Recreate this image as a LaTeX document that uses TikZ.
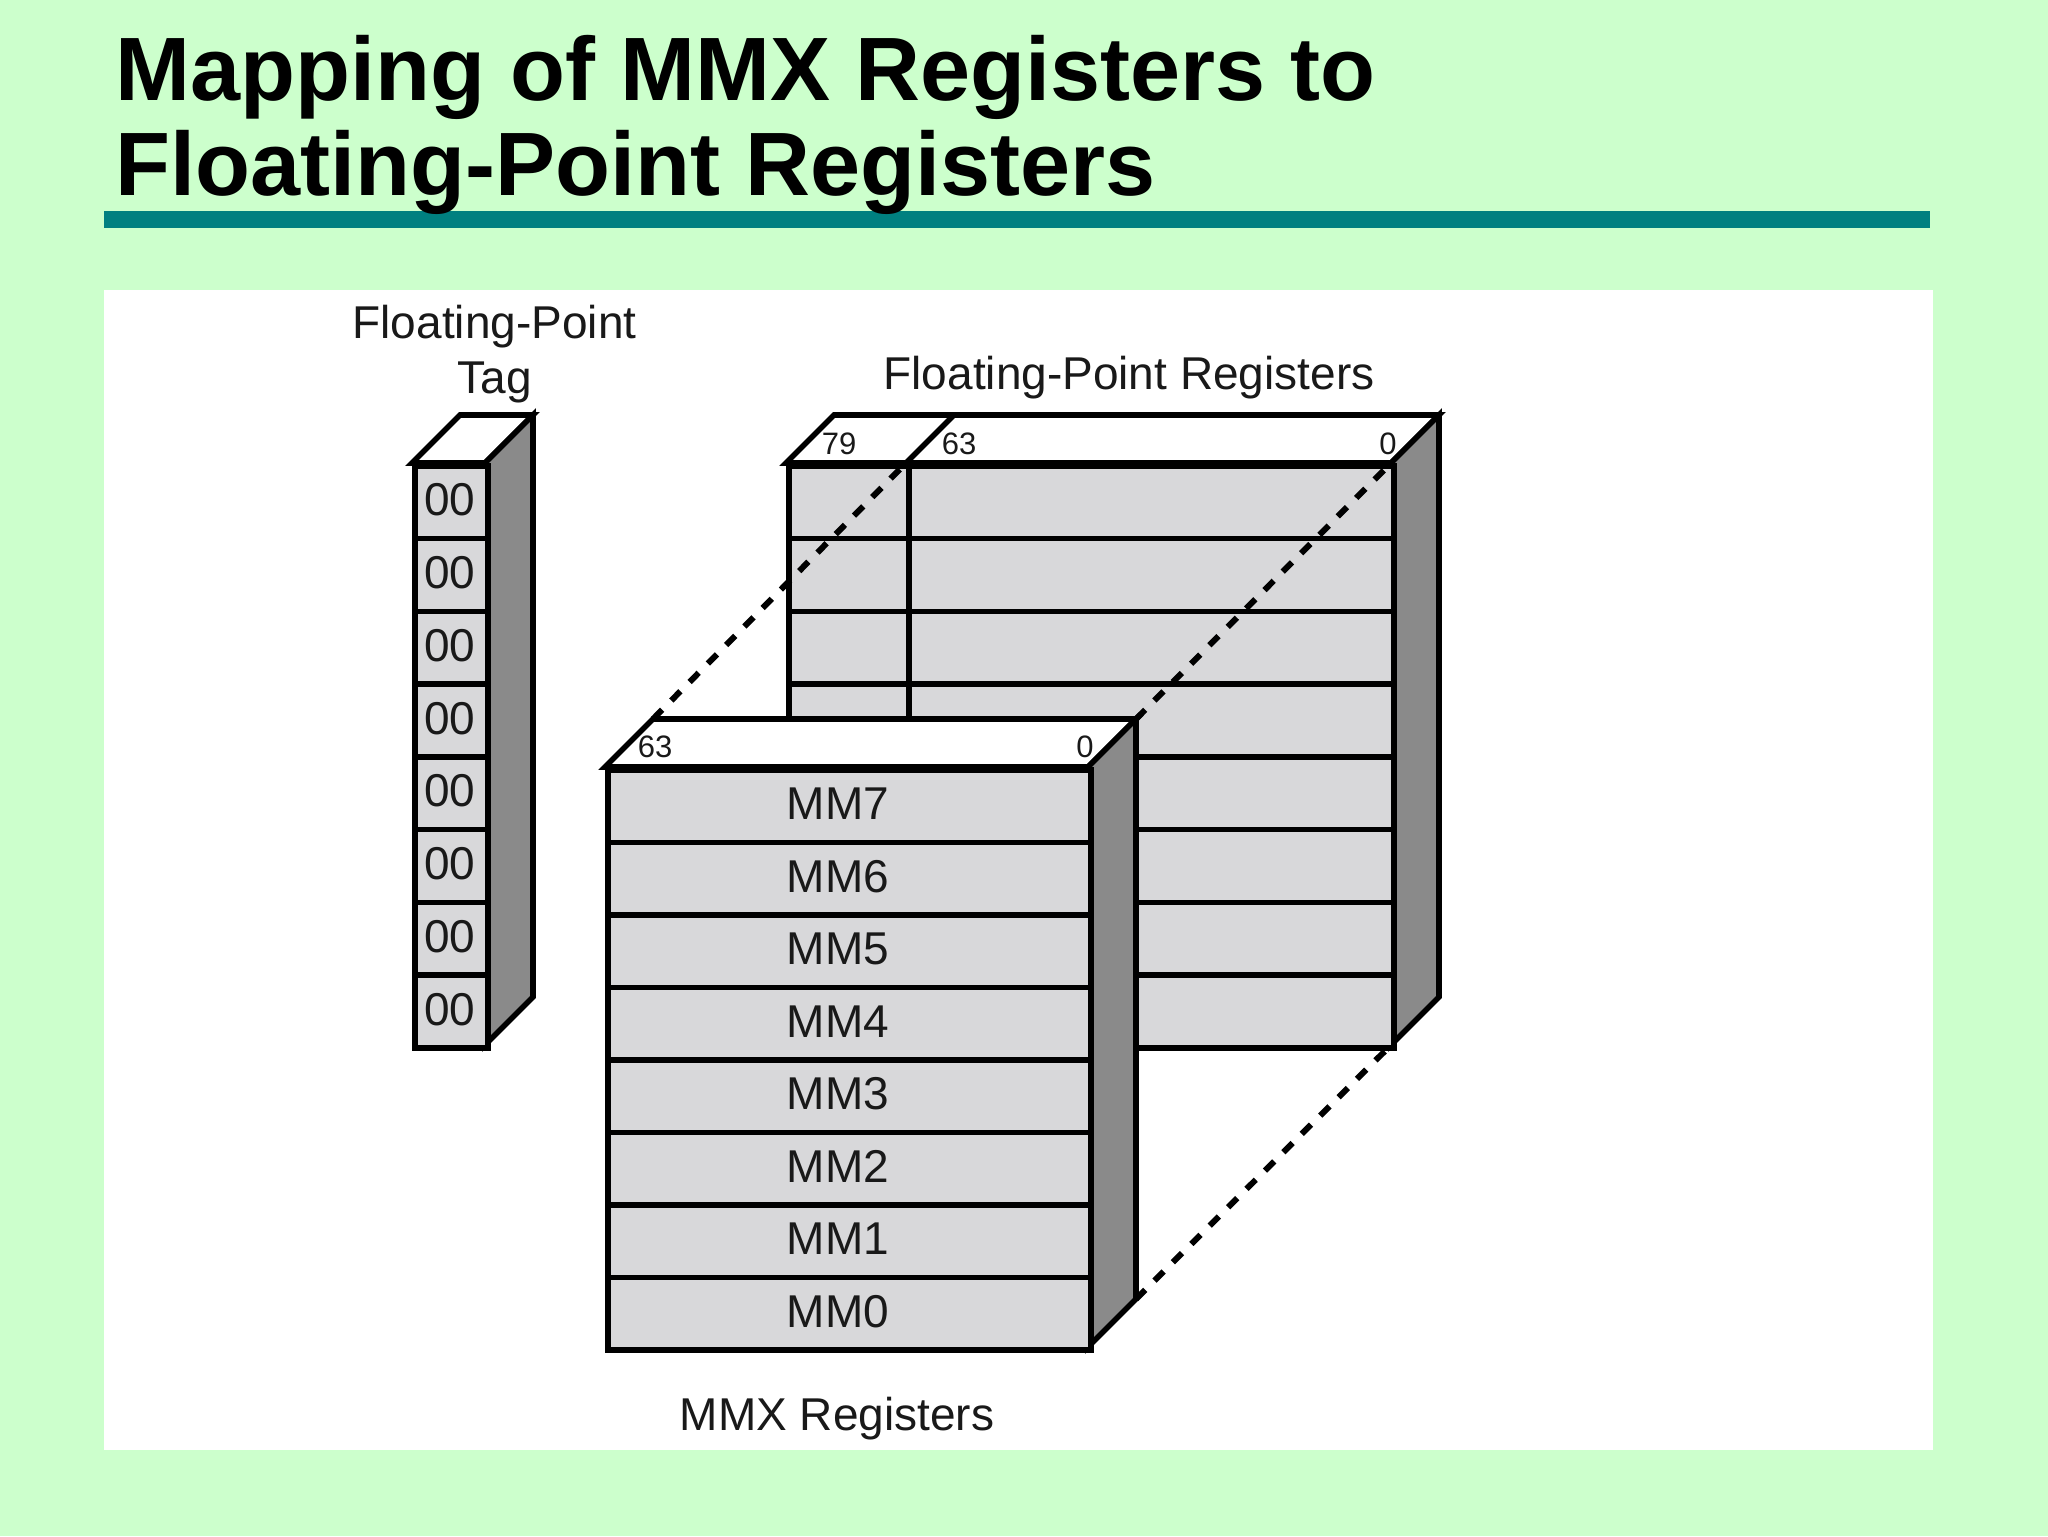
\documentclass[tikz,border=0pt]{standalone}
\usepackage{fontspec}
\setmainfont{Liberation Sans}
\definecolor{bggreen}{RGB}{204,255,204}
\definecolor{tealbar}{RGB}{0,128,128}
\definecolor{cellgray}{RGB}{216,216,218}
\definecolor{sidegray}{RGB}{138,138,138}
\definecolor{ink}{RGB}{25,25,25}
\begin{document}
\begin{tikzpicture}[x=0.5pt,y=-0.5pt,line join=miter,
  outl/.style={draw=black,line width=2.8pt},
  cell/.style={outl,fill=cellgray,rectangle,inner sep=0pt,anchor=north west},
  topface/.style={outl,fill=white},
  sideface/.style={outl,fill=sidegray},
  mapline/.style={draw=black,line width=3pt,dash pattern=on 6.5pt off 6.5pt},
  lbl/.style={inner sep=0pt,anchor=base,text=ink,font=\fontsize{23}{27}\selectfont},
  celltxt/.style={inner sep=0pt,anchor=center,text=ink,font=\fontsize{23}{27}\selectfont},
  num/.style={inner sep=0pt,anchor=center,text=ink,font=\fontsize{15.5}{18}\selectfont},
  ttl/.style={inner sep=0pt,anchor=base west,text=black,font=\bfseries\fontsize{45}{50}\selectfont}]
\useasboundingbox (0,0) rectangle (2048,1536);
\fill[bggreen] (0,0) rectangle (2048,1536);
\fill[tealbar] (104,211) rectangle (1930,228);
\fill[white] (104,290) rectangle (1933,1450);
% title
\node[ttl] (title1) at (115,100) {Mapping of MMX Registers to};
\node[ttl] (title2) at (115,195) {Floating-Point Registers};
% ---------- floating-point register block ----------
\draw[topface] (786,463) -- (834,415) -- (1439,415) -- (1391,463) -- cycle;
\draw[outl] (906,463) -- (954,415);
\draw[sideface] (1391,463) -- (1439,415) -- (1439,997) -- (1391,1045) -- cycle;
\foreach \i in {0,...,7}{
  \node[cell,minimum width=60pt,minimum height=36.375pt] (fpl\i) at (786,{463+72.75*\i}) {};
  \node[cell,minimum width=242.5pt,minimum height=36.375pt] (fpr\i) at (906,{463+72.75*\i}) {};
}
\node[num] (n79) at (839,444) {79};
\node[num] (n63a) at (959,444) {63};
\node[num] (n0a) at (1388,444) {0};
\node[lbl] (fplabel) at (1129,389) {Floating-Point Registers};
% corner coordinates for mapping lines
\coordinate (fp63) at (906,463);
\coordinate (fp0) at (1391,463);
\coordinate (fpbot) at (1391,1045);
\coordinate (mmtl) at (653,719);
\coordinate (mmtr) at (1136,719);
\coordinate (mmbr) at (1136,1299);
\draw[mapline] (mmtl) -- (fp63);
\draw[mapline] (mmtr) -- (fp0);
\draw[mapline] (mmbr) -- (fpbot);
% ---------- tag column ----------
\draw[topface] (412,463) -- (460,415) -- (533,415) -- (485,463) -- cycle;
\draw[sideface] (485,463) -- (533,415) -- (533,997) -- (485,1045) -- cycle;
\foreach \i in {0,...,7}{
  \node[cell,minimum width=36.5pt,minimum height=36.375pt] (tag\i) at (412,{463+72.75*\i}) {};
  \node[celltxt] (tagt\i) at (450,{463+72.75*\i+37}) {00};
}
\node[lbl] (taglabel1) at (494.5,338) {Floating-Point};
\node[lbl] (taglabel2) at (494.5,393) {Tag};
% ---------- MMX block ----------
\draw[topface] (605,767) -- (653,719) -- (1136,719) -- (1088,767) -- cycle;
\draw[sideface] (1088,767) -- (1136,719) -- (1136,1299) -- (1088,1347) -- cycle;
\foreach \i/\t in {0/MM7,1/MM6,2/MM5,3/MM4,4/MM3,5/MM2,6/MM1,7/MM0}{
  \node[cell,minimum width=241.5pt,minimum height=36.25pt] (mm\i) at (605,{767+72.5*\i}) {};
  \node[celltxt] (mmt\i) at (838,{767+72.5*\i+37}) {\t};
}
\node[num] (n63b) at (655,747) {63};
\node[num] (n0b) at (1085,747) {0};
\node[lbl] (mmlabel) at (837,1430) {MMX Registers};
\end{tikzpicture}
\end{document}
